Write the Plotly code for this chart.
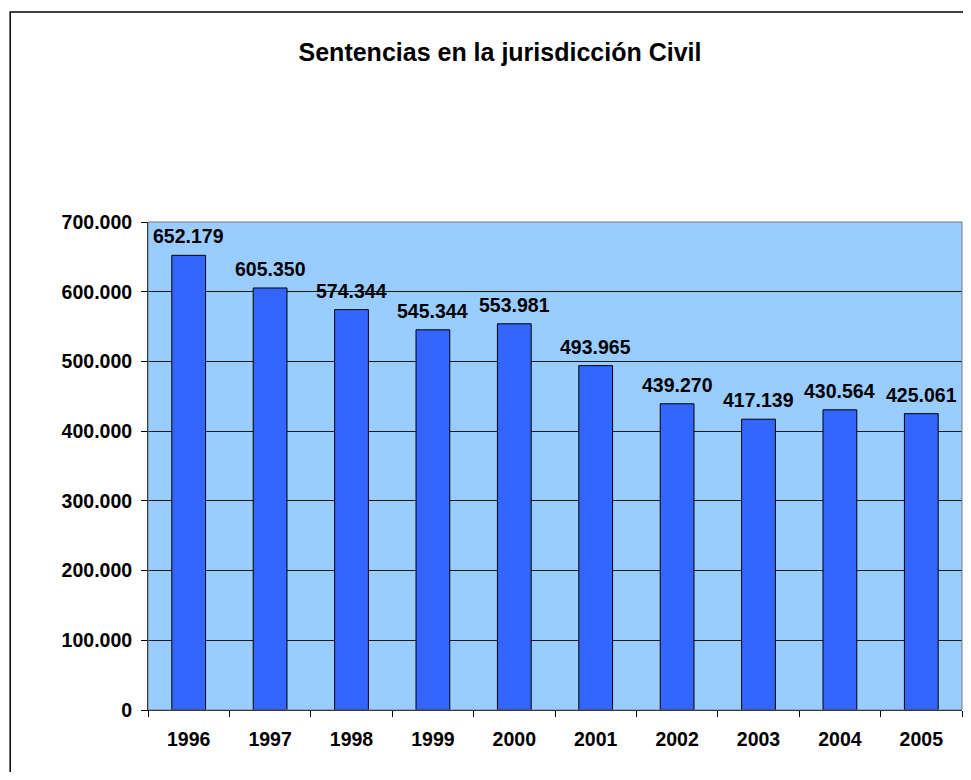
import plotly.graph_objects as go

years = ["1996", "1997", "1998", "1999", "2000", "2001", "2002", "2003", "2004", "2005"]
sentencias = [652179, 605350, 574344, 545344, 553981, 493965, 439270, 417139, 430564, 425061]

fnt = dict(family="Liberation Sans, Arial, sans-serif", size=19.5, color="black")

fig = go.Figure()
fig.add_trace(go.Bar(
    x=years, y=sentencias,
    marker=dict(color="#3366FF", line=dict(color="black", width=1)),
))

# value labels, a bit higher above the bars than plotly's outside text
# (category axis: numeric-looking strings are read as indices, so use the index)
for i, v in enumerate(sentencias):
    fig.add_annotation(x=i, y=v, text="<b>" + f"{v:,}".replace(",", ".") + "</b>",
                       showarrow=False, yanchor="middle", yshift=19, font=fnt)

# page body has an 8px margin, keep the figure inside the window
W, H = 955, 764
fig.update_layout(
    width=W, height=H,
    margin=dict(l=140, r=1, t=214, b=62),
    paper_bgcolor="white", plot_bgcolor="#99CCFF",
    separators=",.",
    bargap=0.585,
    showlegend=False,
    title=dict(text="<b>Sentencias en la jurisdicción Civil</b>",
               x=492 / W, xanchor="center", y=1 - 44 / H, yanchor="middle",
               font=dict(family="Liberation Sans, Arial, sans-serif", size=25, color="black")),
    font=fnt,
)
fig.update_yaxes(range=[0, 700000], dtick=100000, tickformat=",d",
                 showgrid=True, gridcolor="#1a1a1a", gridwidth=1,
                 ticks="outside", ticklen=6, tickcolor="black", ticklabelstandoff=5,
                 showline=True, linecolor="black", linewidth=1,
                 tickprefix="<b>", ticksuffix="</b>", zeroline=False)
fig.update_xaxes(type="category", tickson="boundaries", ticks="outside", ticklen=6,
                 tickcolor="black", ticklabelstandoff=12,
                 showline=True, linecolor="black", linewidth=1,
                 tickprefix="<b>", ticksuffix="</b>")

# gray frame of the plot area and outer chart border
fig.add_shape(type="rect", xref="paper", yref="paper", x0=0, x1=1, y0=0, y1=1,
              line=dict(color="#777777", width=1))
fig.add_shape(type="rect", xref="paper", yref="paper", x0=-0.1693, x1=1.2, y0=-0.3, y1=1.4303,
              line=dict(color="black", width=1.5))

fig.write_html("out.html")
